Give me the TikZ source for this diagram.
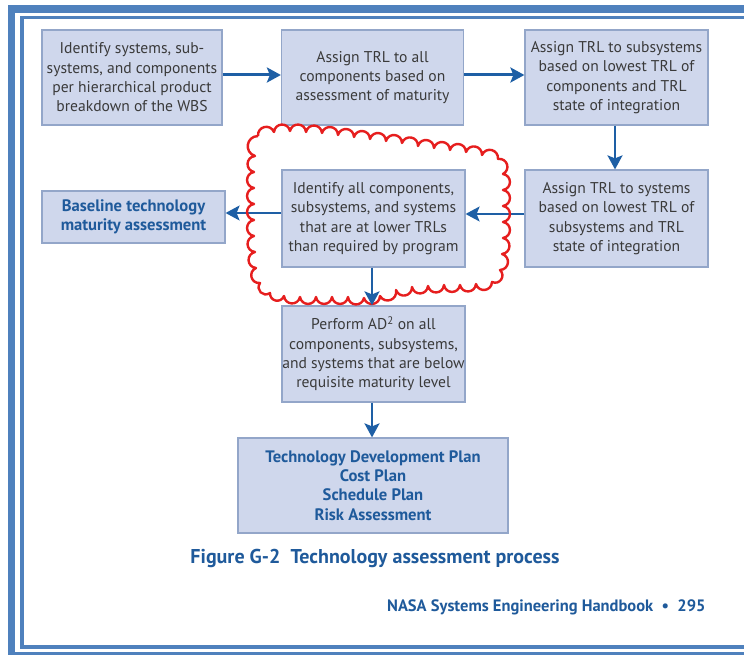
\documentclass[tikz,border=0pt]{standalone}
\usepackage{fontspec}
\setmainfont{PT Sans}
\usetikzlibrary{arrows.meta,calc}

\definecolor{framebl}{HTML}{4F81BD}
\definecolor{boxfill}{HTML}{CFD7EC}
\definecolor{boxedge}{HTML}{93A6C9}
\definecolor{bodytext}{HTML}{3A3A3A}
\definecolor{headblue}{HTML}{1F5A9B}
\definecolor{arrowbl}{HTML}{1E5FA5}
\definecolor{cloudred}{HTML}{E61E1E}

\tikzset{
  procbox/.style={draw=boxedge, fill=boxfill, line width=1.2pt, text=bodytext,
    align=center, inner sep=0pt, minimum width=182pt, minimum height=95pt,
    font=\fontsize{15.6}{19.3}\selectfont},
  keybox/.style={procbox, text=headblue,
    font=\bfseries\fontsize{16.6}{19.3}\selectfont},
  flow/.style={draw=arrowbl, line width=3pt,
    -{Stealth[length=14pt,width=15pt,inset=3pt]}},
  flowthin/.style={flow, line width=1.6pt},
  flowmid/.style={flow, line width=2.5pt},
  cloudline/.style={draw=cloudred, line width=2.4pt, line join=round},
  puff/.style={bend left=80, looseness=1.5},
}

\begin{document}
\begin{tikzpicture}[x=1pt,y=-1pt]
\useasboundingbox (0,0) rectangle (744,655);
\clip (0,0) rectangle (744,655);
\fill[white] (0,0) rectangle (744,655);

% double page frame
\draw[framebl, line width=7.5pt] (11.5,9) rectangle (770,656);
\draw[framebl, line width=3.6pt] (22,17.5) rectangle (770,647);

% process boxes
\node[procbox, minimum width=180pt] (wbs) at (132,77.5)
  {Identify systems, sub-\\systems, and components\\per hierarchical product\\breakdown of the WBS};
\node[procbox] (comp) at (372.5,77.5)
  {Assign TRL to all\\components based on\\assessment of maturity};
\node[procbox, minimum width=183pt] (subs) at (616.5,77.5)
  {Assign TRL to subsystems\\based on lowest TRL of\\components and TRL\\state of integration};
\node[procbox, minimum width=183pt, minimum height=97pt] (sys) at (616.5,218.5)
  {Assign TRL to systems\\based on lowest TRL of\\subsystems and TRL\\state of integration};
\node[procbox, minimum width=183pt, minimum height=97pt] (low) at (373.5,218.5)
  {Identify all components,\\subsystems, and systems\\that are at lower TRLs\\than required by program};
\node[keybox, minimum width=183pt, minimum height=52pt] (base) at (133.5,217)
  {Baseline technology\\maturity assessment};
\node[procbox, minimum width=183pt, minimum height=96pt] (ad2) at (373.5,354)
  {Perform AD\textsuperscript{2} on all\\components, subsystems,\\and systems that are below\\requisite maturity level};
\node[keybox, minimum width=270pt, minimum height=95pt] (plan) at (373,485.5)
  {Technology Development Plan\\Cost Plan\\Schedule Plan\\Risk Assessment};

% connectors
\draw[flow] (wbs.east |- 0,75) -- (comp.west |- 0,75);
\draw[flow] (comp.east |- 0,75) -- (subs.west |- 0,75);
\draw[flowmid] (subs.south -| 615,0) -- (sys.north -| 615,0);
\draw[flowthin] (sys.west |- 0,214) -- (low.east |- 0,214);
\draw[flowthin] (low.west |- 0,213) -- (base.east |- 0,213);

% red cloud marking the gap-identification step
\draw[cloudline] (258,136)
  \foreach \px/\py in {274/132,290/131,306/132,322/133,338/135,354/137,
    370/139,386/141,402/143,418/146,434/148,450/150,466/152,
    482/155,498/159,503/174,503/190,503/206,503/222,503/238,
    502/254,500/270,492/282,476/284,460/285,444/285,428/286,
    412/287,396/290,380/296,364/298,348/297,332/297,316/297,
    300/297,284/296,270/293,260/283,256/268,255/252,254/236,
    254/220,254/204,254/188,254/172,255/156,258/136}
  { to[puff] (\px,\py) };

\draw[flowmid] (low.south -| 372,0) -- (ad2.north -| 372,0);
\draw[flowmid] (ad2.south -| 372,0) -- (plan.north -| 372,0);

% caption and running footer
\node[text=headblue, font=\bfseries\fontsize{20}{22}\selectfont] (cap) at (375,558)
  {Figure G-2\ \ Technology assessment process};
\node[text=headblue, font=\bfseries\fontsize{16.5}{18}\selectfont, anchor=east] (foot) at (709,607)
  {NASA Systems Engineering Handbook\ \ •\ \ 295};
\end{tikzpicture}
\end{document}
